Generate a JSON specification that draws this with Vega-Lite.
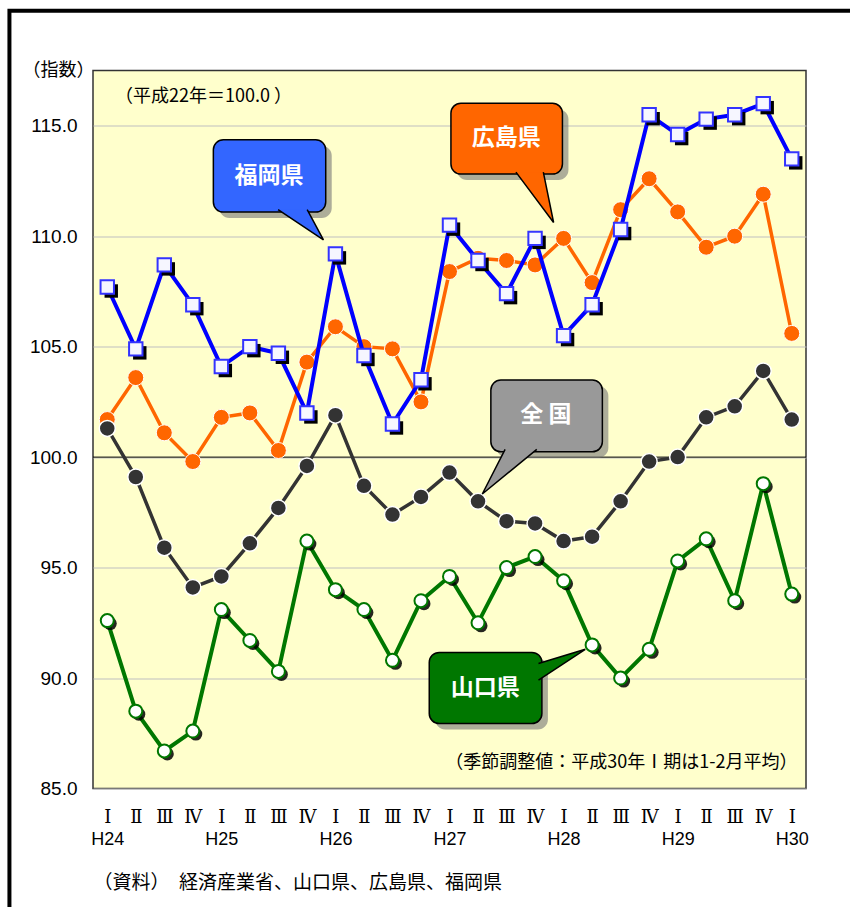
{
  "$schema": "https://vega.github.io/schema/vega-lite/v6.json",
  "width": 713,
  "height": 718,
  "autosize": {"type": "none"},
  "padding": {"left": 93, "top": 70.5, "right": 44, "bottom": 118.5},
  "background": "white",
  "config": {
    "view": {"fill": "#FFFFCC", "stroke": "#333333", "strokeWidth": 1.5},
    "font": "Liberation Sans"
  },
  "datasets": {
    "idx": [
      {"t": 0, "s": "fukuoka", "v": 107.7}, {"t": 1, "s": "fukuoka", "v": 104.9}, {"t": 2, "s": "fukuoka", "v": 108.7}, {"t": 3, "s": "fukuoka", "v": 106.9},
      {"t": 4, "s": "fukuoka", "v": 104.1}, {"t": 5, "s": "fukuoka", "v": 105.0}, {"t": 6, "s": "fukuoka", "v": 104.7}, {"t": 7, "s": "fukuoka", "v": 102.0},
      {"t": 8, "s": "fukuoka", "v": 109.2}, {"t": 9, "s": "fukuoka", "v": 104.6}, {"t": 10, "s": "fukuoka", "v": 101.5}, {"t": 11, "s": "fukuoka", "v": 103.5},
      {"t": 12, "s": "fukuoka", "v": 110.5}, {"t": 13, "s": "fukuoka", "v": 108.9}, {"t": 14, "s": "fukuoka", "v": 107.4}, {"t": 15, "s": "fukuoka", "v": 109.9},
      {"t": 16, "s": "fukuoka", "v": 105.5}, {"t": 17, "s": "fukuoka", "v": 106.9}, {"t": 18, "s": "fukuoka", "v": 110.3}, {"t": 19, "s": "fukuoka", "v": 115.5},
      {"t": 20, "s": "fukuoka", "v": 114.6}, {"t": 21, "s": "fukuoka", "v": 115.3}, {"t": 22, "s": "fukuoka", "v": 115.5}, {"t": 23, "s": "fukuoka", "v": 116.0},
      {"t": 24, "s": "fukuoka", "v": 113.5},
      {"t": 0, "s": "hiroshima", "v": 101.7}, {"t": 1, "s": "hiroshima", "v": 103.6}, {"t": 2, "s": "hiroshima", "v": 101.1}, {"t": 3, "s": "hiroshima", "v": 99.8},
      {"t": 4, "s": "hiroshima", "v": 101.8}, {"t": 5, "s": "hiroshima", "v": 102.0}, {"t": 6, "s": "hiroshima", "v": 100.3}, {"t": 7, "s": "hiroshima", "v": 104.3},
      {"t": 8, "s": "hiroshima", "v": 105.9}, {"t": 9, "s": "hiroshima", "v": 105.0}, {"t": 10, "s": "hiroshima", "v": 104.9}, {"t": 11, "s": "hiroshima", "v": 102.5},
      {"t": 12, "s": "hiroshima", "v": 108.4}, {"t": 13, "s": "hiroshima", "v": 109.0}, {"t": 14, "s": "hiroshima", "v": 108.9}, {"t": 15, "s": "hiroshima", "v": 108.7},
      {"t": 16, "s": "hiroshima", "v": 109.9}, {"t": 17, "s": "hiroshima", "v": 107.9}, {"t": 18, "s": "hiroshima", "v": 111.2}, {"t": 19, "s": "hiroshima", "v": 112.6},
      {"t": 20, "s": "hiroshima", "v": 111.1}, {"t": 21, "s": "hiroshima", "v": 109.5}, {"t": 22, "s": "hiroshima", "v": 110.0}, {"t": 23, "s": "hiroshima", "v": 111.9},
      {"t": 24, "s": "hiroshima", "v": 105.6},
      {"t": 0, "s": "national", "v": 101.3}, {"t": 1, "s": "national", "v": 99.1}, {"t": 2, "s": "national", "v": 95.9}, {"t": 3, "s": "national", "v": 94.1},
      {"t": 4, "s": "national", "v": 94.6}, {"t": 5, "s": "national", "v": 96.1}, {"t": 6, "s": "national", "v": 97.7}, {"t": 7, "s": "national", "v": 99.6},
      {"t": 8, "s": "national", "v": 101.9}, {"t": 9, "s": "national", "v": 98.7}, {"t": 10, "s": "national", "v": 97.4}, {"t": 11, "s": "national", "v": 98.2},
      {"t": 12, "s": "national", "v": 99.3}, {"t": 13, "s": "national", "v": 98.0}, {"t": 14, "s": "national", "v": 97.1}, {"t": 15, "s": "national", "v": 97.0},
      {"t": 16, "s": "national", "v": 96.2}, {"t": 17, "s": "national", "v": 96.4}, {"t": 18, "s": "national", "v": 98.0}, {"t": 19, "s": "national", "v": 99.8},
      {"t": 20, "s": "national", "v": 100.0}, {"t": 21, "s": "national", "v": 101.8}, {"t": 22, "s": "national", "v": 102.3}, {"t": 23, "s": "national", "v": 103.9},
      {"t": 24, "s": "national", "v": 101.7},
      {"t": 0, "s": "yamaguchi", "v": 92.6}, {"t": 1, "s": "yamaguchi", "v": 88.5}, {"t": 2, "s": "yamaguchi", "v": 86.7}, {"t": 3, "s": "yamaguchi", "v": 87.6},
      {"t": 4, "s": "yamaguchi", "v": 93.1}, {"t": 5, "s": "yamaguchi", "v": 91.7}, {"t": 6, "s": "yamaguchi", "v": 90.3}, {"t": 7, "s": "yamaguchi", "v": 96.2},
      {"t": 8, "s": "yamaguchi", "v": 94.0}, {"t": 9, "s": "yamaguchi", "v": 93.1}, {"t": 10, "s": "yamaguchi", "v": 90.8}, {"t": 11, "s": "yamaguchi", "v": 93.5},
      {"t": 12, "s": "yamaguchi", "v": 94.6}, {"t": 13, "s": "yamaguchi", "v": 92.5}, {"t": 14, "s": "yamaguchi", "v": 95.0}, {"t": 15, "s": "yamaguchi", "v": 95.5},
      {"t": 16, "s": "yamaguchi", "v": 94.4}, {"t": 17, "s": "yamaguchi", "v": 91.5}, {"t": 18, "s": "yamaguchi", "v": 90.0}, {"t": 19, "s": "yamaguchi", "v": 91.3},
      {"t": 20, "s": "yamaguchi", "v": 95.3}, {"t": 21, "s": "yamaguchi", "v": 96.3}, {"t": 22, "s": "yamaguchi", "v": 93.5}, {"t": 23, "s": "yamaguchi", "v": 98.8},
      {"t": 24, "s": "yamaguchi", "v": 93.8}
    ],
    "boxes": [
      {"id": "福岡県", "t": 3.72, "t2": 7.66, "v": 114.36, "v2": 111.09},
      {"id": "広島県", "t": 12.05, "t2": 15.96, "v": 116.02, "v2": 112.81},
      {"id": "全国", "t": 13.45, "t2": 17.36, "v": 103.49, "v2": 100.24},
      {"id": "山口県", "t": 11.29, "t2": 15.24, "v": 91.16, "v2": 87.94}
    ],
    "boxlabels": [
      {"id": "福岡県", "label": "福岡県", "t": 5.67, "v": 112.73},
      {"id": "広島県", "label": "広島県", "t": 13.99, "v": 114.44},
      {"id": "全国", "label": "全 国", "t": 15.38, "v": 101.91},
      {"id": "山口県", "label": "山口県", "t": 13.25, "v": 89.53}
    ],
    "tails": [
      {"id": "福岡県", "o": 0, "t": 5.99, "v": 111.2},
      {"id": "福岡県", "o": 1, "t": 7.58, "v": 109.83},
      {"id": "福岡県", "o": 2, "t": 7.01, "v": 111.2},
      {"id": "広島県", "o": 0, "t": 14.33, "v": 112.9},
      {"id": "広島県", "o": 1, "t": 15.65, "v": 110.62},
      {"id": "広島県", "o": 2, "t": 15.29, "v": 112.9},
      {"id": "全国", "o": 0, "t": 13.95, "v": 100.35},
      {"id": "全国", "o": 1, "t": 13.15, "v": 98.33},
      {"id": "全国", "o": 2, "t": 15.06, "v": 100.35},
      {"id": "山口県", "o": 0, "t": 15.12, "v": 90.66},
      {"id": "山口県", "o": 1, "t": 16.76, "v": 91.3},
      {"id": "山口県", "o": 2, "t": 15.12, "v": 89.9}
    ],
    "notes": [
      {"t": 0.27, "v": 116.31, "label": "（平成22年＝100.0 ）"},
      {"t": 24.2, "v": 86.16, "label": "（季節調整値：平成30年Ⅰ期は1-2月平均）"},
      {"t": -0.48, "v": 80.7, "label": "（資料）　経済産業省、山口県、広島県、福岡県"}
    ],
    "baseline": [{"t": -0.5, "t2": 24.5, "v": 100}],
    "frame": [{"t": -3.43, "t2": 40, "v": 120.2, "v2": 60}]
  },
  "encoding": {
    "x": {
      "field": "t", "type": "quantitative",
      "scale": {"domain": [-0.5, 24.5], "nice": false, "zero": false},
      "axis": {
        "title": null,
        "values": [0,1,2,3,4,5,6,7,8,9,10,11,12,13,14,15,16,17,18,19,20,21,22,23,24],
        "labelExpr": "[['Ⅰ','Ⅱ','Ⅲ','Ⅳ'][datum.value % 4], datum.value % 4 == 0 ? 'H' + (24 + datum.value / 4) : '']",
        "labelFont": "Liberation Sans, DejaVu Serif",
        "labelFontSize": 18,
        "labelLineHeight": 22,
        "labelColor": "#000000",
        "labelPadding": 20,
        "labelBaseline": "top",
        "labelOverlap": false,
        "labelFlush": false,
        "labelBound": false,
        "ticks": false,
        "domain": false,
        "grid": false
      }
    },
    "y": {
      "field": "v", "type": "quantitative",
      "scale": {"domain": [85, 117.5], "nice": false, "zero": false},
      "axis": {
        "values": [85, 90, 95, 100, 105, 110, 115],
        "format": ".1f",
        "title": "（指数）",
        "titleAngle": 0,
        "titleAlign": "center",
        "titleBaseline": "middle",
        "titleX": -35,
        "titleY": 0,
        "titleFont": "Noto Sans CJK JP",
        "titleFontSize": 18,
        "titleFontWeight": "normal",
        "titleColor": "#000000",
        "labelFont": "Liberation Sans",
        "labelFontSize": 19,
        "labelColor": "#000000",
        "labelPadding": 16,
        "ticks": false,
        "domain": false,
        "grid": true,
        "gridColor": "#C0C0C0",
        "gridWidth": 1.2
      }
    }
  },
  "layer": [
    {
      "data": {"name": "baseline"},
      "mark": {"type": "rule", "color": "#000000", "strokeWidth": 1},
      "encoding": {"x2": {"field": "t2"}}
    },
    {
      "data": {"name": "idx"},
      "transform": [{"filter": "datum.s == 'yamaguchi'"}],
      "mark": {"type": "line", "color": "#007700", "strokeWidth": 4}
    },
    {
      "data": {"name": "idx"},
      "transform": [{"filter": "datum.s == 'yamaguchi'"}],
      "mark": {"type": "point", "shape": "circle", "filled": true, "color": "#000000", "size": 169, "xOffset": 3, "yOffset": 3, "opacity": 0.85}
    },
    {
      "data": {"name": "idx"},
      "transform": [{"filter": "datum.s == 'yamaguchi'"}],
      "mark": {"type": "point", "shape": "circle", "filled": true, "fill": "#FFFFFF", "stroke": "#007700", "strokeWidth": 2, "size": 169, "opacity": 1}
    },
    {
      "data": {"name": "idx"},
      "transform": [{"filter": "datum.s == 'hiroshima'"}],
      "mark": {"type": "line", "color": "#FF6600", "strokeWidth": 3.5}
    },
    {
      "data": {"name": "idx"},
      "transform": [{"filter": "datum.s == 'hiroshima'"}],
      "mark": {"type": "point", "shape": "circle", "filled": true, "fill": "#FF6600", "stroke": "#FFFFFF", "strokeWidth": 1, "size": 256, "opacity": 1}
    },
    {
      "data": {"name": "idx"},
      "transform": [{"filter": "datum.s == 'national'"}],
      "mark": {"type": "line", "color": "#333333", "strokeWidth": 3.5}
    },
    {
      "data": {"name": "idx"},
      "transform": [{"filter": "datum.s == 'national'"}],
      "mark": {"type": "point", "shape": "circle", "filled": true, "fill": "#333333", "stroke": "#FFFFFF", "strokeWidth": 1.5, "size": 256, "opacity": 1}
    },
    {
      "data": {"name": "idx"},
      "transform": [{"filter": "datum.s == 'fukuoka'"}],
      "mark": {"type": "line", "color": "#0000FF", "strokeWidth": 4}
    },
    {
      "data": {"name": "idx"},
      "transform": [{"filter": "datum.s == 'fukuoka'"}],
      "mark": {"type": "point", "shape": "square", "filled": true, "color": "#000000", "size": 180, "xOffset": 4, "yOffset": 4, "opacity": 1}
    },
    {
      "data": {"name": "idx"},
      "transform": [{"filter": "datum.s == 'fukuoka'"}],
      "mark": {"type": "point", "shape": "square", "filled": true, "fill": "#F6F6FF", "stroke": "#3333FF", "strokeWidth": 2, "size": 180, "opacity": 1}
    },
    {
      "data": {"name": "boxes"},
      "mark": {"type": "rect", "fill": "#777777", "opacity": 0.6, "cornerRadius": 10, "xOffset": 6, "x2Offset": 6, "yOffset": 6, "y2Offset": 6},
      "encoding": {"x2": {"field": "t2"}, "y2": {"field": "v2"}}
    },
    {
      "data": {"name": "boxes"},
      "mark": {"type": "rect", "stroke": "#000000", "strokeWidth": 1.5, "cornerRadius": 10, "opacity": 1},
      "encoding": {
        "x2": {"field": "t2"}, "y2": {"field": "v2"},
        "fill": {"field": "id", "type": "nominal", "legend": null,
          "scale": {"domain": ["福岡県", "広島県", "全国", "山口県"], "range": ["#3366FF", "#FF6600", "#999999", "#007700"]}}
      }
    },
    {
      "data": {"name": "tails"},
      "mark": {"type": "line", "stroke": "#000000", "strokeWidth": 1.5, "strokeJoin": "miter"},
      "encoding": {
        "order": {"field": "o"},
        "detail": {"field": "id"},
        "fill": {"field": "id", "type": "nominal", "legend": null,
          "scale": {"domain": ["福岡県", "広島県", "全国", "山口県"], "range": ["#3366FF", "#FF6600", "#999999", "#007700"]}}
      }
    },
    {
      "data": {"name": "boxlabels"},
      "mark": {"type": "text", "color": "#FFFFFF", "font": "Noto Sans CJK JP", "fontSize": 23, "fontWeight": "bold", "align": "center", "baseline": "middle"},
      "encoding": {"text": {"field": "label"}}
    },
    {
      "data": {"name": "notes"},
      "transform": [{"filter": "datum.t < 1 && datum.v > 100"}],
      "mark": {"type": "text", "color": "#000000", "font": "Noto Sans CJK JP", "fontSize": 18, "align": "left", "baseline": "middle"},
      "encoding": {"text": {"field": "label"}}
    },
    {
      "data": {"name": "notes"},
      "transform": [{"filter": "datum.t > 20"}],
      "mark": {"type": "text", "color": "#000000", "font": "Noto Sans CJK JP", "fontSize": 18, "align": "right", "baseline": "middle"},
      "encoding": {"text": {"field": "label"}}
    },
    {
      "data": {"name": "notes"},
      "transform": [{"filter": "datum.v < 85"}],
      "mark": {"type": "text", "color": "#000000", "font": "Noto Sans CJK JP", "fontSize": 19, "align": "left", "baseline": "middle"},
      "encoding": {"text": {"field": "label"}}
    },
    {
      "data": {"name": "frame"},
      "mark": {"type": "rect", "fill": null, "fillOpacity": 0, "stroke": "#000000", "strokeWidth": 4, "clip": false},
      "encoding": {"x2": {"field": "t2"}, "y2": {"field": "v2"}}
    }
  ]
}
